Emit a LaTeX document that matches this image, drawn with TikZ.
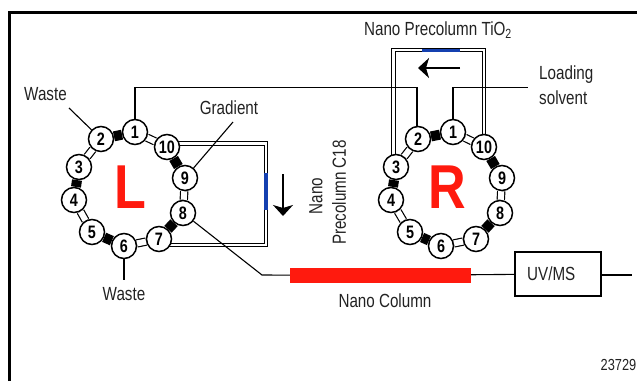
\documentclass[tikz,border=0pt]{standalone}
\usepackage{fontspec}
\setmainfont[FakeStretch=0.8]{Liberation Sans}
\newfontfamily\bigfont[FakeStretch=0.84]{Liberation Sans}
\usetikzlibrary{backgrounds,arrows.meta}
\definecolor{redc}{HTML}{FF1A0E}
\definecolor{bluec}{HTML}{1440B0}
\definecolor{txt}{HTML}{222222}
\tikzset{
  x=1pt,y=-1pt,
  port/.style={circle,draw=black,line width=1.5pt,fill=white,minimum size=25pt,inner sep=0pt,font=\fontsize{18}{18}\selectfont\bfseries},
  wire/.style={draw=black,line width=1.1pt},
  thickseg/.style={draw=black,line width=10pt},
  openseg/.style={draw=black,line width=1.2pt,double=white,double distance=6pt},
  loopline/.style={draw=black,line width=1.1pt,double=white,double distance=2.6pt,line join=miter},
  lbl/.style={inner sep=0pt,text=txt,font=\fontsize{19}{19}\selectfont},
  valve/.style={inner sep=0pt,text=redc,font=\bigfont\fontsize{62}{62}\selectfont\bfseries},
  flow/.style={draw=black,line width=2.6pt,-{Stealth[length=11pt,width=20pt,inset=3pt]}},
}
\begin{document}
\begin{tikzpicture}
\useasboundingbox (0,0) rectangle (637,381);
% frame
\draw[line width=2.2pt] (9.5,381) -- (9.5,12.5) -- (637,12.5);
% left valve ports
\node[port] (l1) at (135,132) {1};
\node[port] (l2) at (101,139) {2};
\node[port] (l3) at (79,167) {3};
\node[port] (l4) at (74,200) {4};
\node[port] (l5) at (92,232) {5};
\node[port] (l6) at (124,246) {6};
\node[port] (l7) at (159,239) {7};
\node[port] (l8) at (183,213) {8};
\node[port] (l9) at (185,178) {9};
\node[port] (l10) at (167,147) {10};
% right valve ports
\node[port] (r1) at (453,132) {1};
\node[port] (r2) at (418,139) {2};
\node[port] (r3) at (396,167) {3};
\node[port] (r4) at (391,200) {4};
\node[port] (r5) at (410,232) {5};
\node[port] (r6) at (441,246) {6};
\node[port] (r7) at (476,239) {7};
\node[port] (r8) at (500,213) {8};
\node[port] (r9) at (502,178) {9};
\node[port] (r10) at (484,147) {10};
% labels
\node[valve] (lv) at (130.5,187.5) {L};
\node[valve] (rv) at (447,187.5) {R};
\node[lbl] (w1) at (45.5,94) {Waste};
\node[lbl] (w2) at (124,294) {Waste};
\node[lbl] (grad) at (229,108) {Gradient};
\node[lbl] (tio) at (438,30) {Nano Precolumn TiO\textsubscript{2}};
\node[lbl,anchor=west] (load1) at (539,75) {Loading};
\node[lbl,anchor=west] (load2) at (539,98) {solvent};
\node[lbl,rotate=90] (c18a) at (316,196) {Nano};
\node[lbl,rotate=90] (c18b) at (339,192.5) {Precolumn C18};
\node[lbl] (ncol) at (385,301) {Nano Column};
\node[lbl,font=\fontsize{16}{16}\selectfont,anchor=east] (num) at (636.5,365) {23729};
% column and detector
\node[draw=none,fill=redc,minimum width=181pt,minimum height=15.5pt,inner sep=0pt] (col) at (380.5,275.5) {};
\node[draw=black,line width=1.3pt,fill=white,minimum width=86pt,minimum height=44pt,inner sep=0pt] (uv) at (558,274) {};
\node[lbl,anchor=west] at (527,274) {UV/MS};
% blue precolumn cartridges
\coordinate (ca) at (160,143.5);
\coordinate (cb) at (266,143.5);
\coordinate (cc) at (266,245);
\coordinate (cd) at (150,245);
\coordinate (ta) at (393.5,165);
\coordinate (tb) at (393.5,50);
\coordinate (tc) at (484,50);
\coordinate (td) at (484,145);
\coordinate (j1) at (135,87.5);
\coordinate (j2) at (417,87.5);
\coordinate (j3) at (453,87.5);
\coordinate (j4) at (528,87.5);
\coordinate (k1) at (262,275);
\coordinate (e1) at (632,275);
\coordinate (a1) at (69,108);
\coordinate (a2) at (124,280);
\coordinate (a3) at (233,122);
\begin{pgfonlayer}{background}
  \path[openseg] (l1)--(l10) (l2)--(l3) (l4)--(l5) (l6)--(l7) (l8)--(l9);
  \path[thickseg] (l2)--(l1) (l10)--(l9) (l8)--(l7) (l6)--(l5) (l4)--(l3);
  \path[openseg] (r1)--(r10) (r2)--(r3) (r4)--(r5) (r6)--(r7) (r8)--(r9);
  \path[thickseg] (r2)--(r1) (r10)--(r9) (r8)--(r7) (r6)--(r5) (r4)--(r3);
  \path[loopline] (ca)--(cb)--(cc)--(cd);
  \path[loopline] (ta)--(tb)--(tc)--(td);
\end{pgfonlayer}
\fill[bluec] (263.8,173) rectangle (267.6,210);
\fill[bluec] (422,48.5) rectangle (460,52.2);
% wires
\path[wire] (l1) -- (j1) -- (j2) -- (r2.north -| j2);
\path[wire] (r1) -- (j3) -- (j4);
\path[wire] (a1) -- (l2);
\path[wire] (l6) -- (a2);
\path[wire] (a3) -- (l9);
\path[wire] (l8) -- (k1) -- (col);
\path[wire] (col) -- (uv);
\path[wire] (uv.east |- e1) -- (e1);
% flow arrows
\coordinate (f1) at (283,174);
\coordinate (f2) at (283,216);
\coordinate (f3) at (460,68);
\coordinate (f4) at (418,68);
\draw[flow] (f1) -- (f2);
\draw[flow] (f3) -- (f4);
\end{tikzpicture}
\end{document}
